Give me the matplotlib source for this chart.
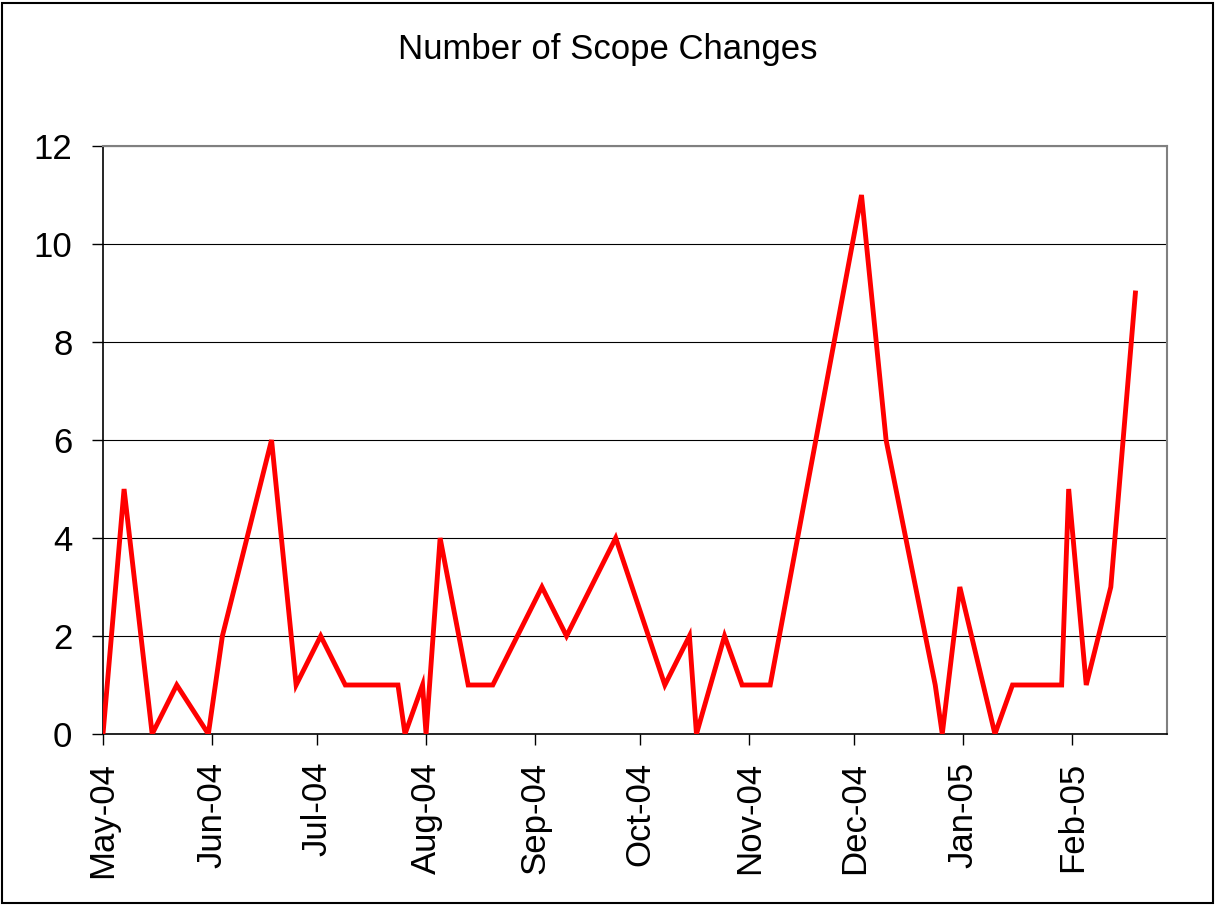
import matplotlib
matplotlib.use("Agg")
import matplotlib.pyplot as plt
import matplotlib.dates as mdates
import pandas as pd
from matplotlib.patches import Rectangle

plt.rcParams['font.family'] = ['Liberation Sans', 'DejaVu Sans']

dates = ["2004-05-01", "2004-05-07", "2004-05-15", "2004-05-22", "2004-05-31",
         "2004-06-04", "2004-06-18", "2004-06-25", "2004-07-02", "2004-07-09",
         "2004-07-24", "2004-07-26", "2004-07-31", "2004-08-01", "2004-08-05",
         "2004-08-13", "2004-08-20", "2004-09-03", "2004-09-10", "2004-09-24",
         "2004-10-08", "2004-10-15", "2004-10-17", "2004-10-25", "2004-10-30",
         "2004-11-07", "2004-12-03", "2004-12-10", "2004-12-24", "2004-12-26",
         "2004-12-31", "2005-01-10", "2005-01-15", "2005-01-29", "2005-01-31",
         "2005-02-05", "2005-02-12", "2005-02-19"]
changes = [0, 5, 0, 1, 0,
           2, 6, 1, 2, 1,
           1, 0, 1, 0, 4,
           1, 1, 3, 2, 4,
           1, 2, 0, 2, 1,
           1, 11, 6, 1, 0,
           3, 0, 1, 1, 5,
           1, 3, 9]
title = "Number of Scope Changes"
x_start, x_end = "2004-05-01", "2005-02-28"
y_ticks = [0, 2, 4, 6, 8, 10, 12]

x = pd.to_datetime(dates)

fig = plt.figure(figsize=(12.15, 9.05), dpi=100)
fig.patch.set_facecolor('white')
fig.patches.append(Rectangle((0.002, 0.002), 0.996, 0.995, transform=fig.transFigure,
                             fill=False, edgecolor='black', linewidth=1.5))

ax = fig.add_axes([103/1215, 1 - 734/905, (1167-103)/1215, (734-146)/905])
ax.plot(x, changes, color='#FF0000', linewidth=3.5, solid_joinstyle='miter', zorder=3)

ax.set_xlim(pd.Timestamp(x_start), pd.Timestamp(x_end))
ax.set_ylim(0, 12)
ax.set_yticks(y_ticks)
ax.yaxis.grid(True, color='black', linewidth=0.8)
ax.set_axisbelow(True)

ax.xaxis.set_major_locator(mdates.MonthLocator())
ax.xaxis.set_major_formatter(mdates.DateFormatter('%b-%y'))
for lbl in ax.get_xticklabels():
    lbl.set_rotation(90)

ax.tick_params(axis='both', labelsize=25, direction='out', length=8, width=1, colors='black')
ax.tick_params(axis='x', pad=12)
ax.tick_params(axis='y', pad=14)

for side in ['left', 'bottom']:
    ax.spines[side].set_color('black')
    ax.spines[side].set_linewidth(1.2)
for side in ['top', 'right']:
    ax.spines[side].set_color('#808080')
    ax.spines[side].set_linewidth(1.5)

fig.text(0.5, 1 - 59/905, title, ha='center', va='baseline', fontsize=25)

fig.savefig('out.png', dpi=100, facecolor='white')
